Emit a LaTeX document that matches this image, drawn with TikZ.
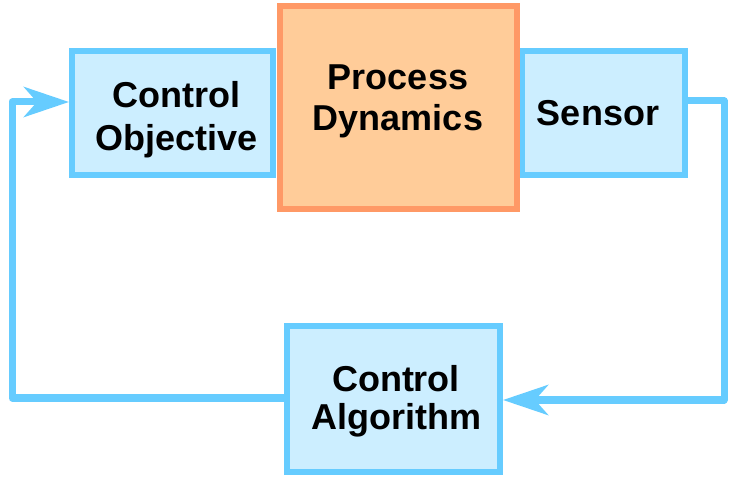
\documentclass[tikz,border=0pt]{standalone}
\usepackage{fontspec}
\setmainfont{Liberation Sans}
\usetikzlibrary{arrows.meta}
\definecolor{boxblue}{HTML}{CCEEFF}
\definecolor{lineblue}{HTML}{66CCFF}
\definecolor{procfill}{HTML}{FFCC99}
\definecolor{procline}{HTML}{FF9966}
\begin{document}
\begin{tikzpicture}[x=1pt,y=1pt,
  blockbox/.style={draw=lineblue, fill=boxblue, line width=6pt, rectangle, inner sep=0pt},
  procbox/.style={blockbox, draw=procline, fill=procfill},
  % one-line label: box runs from cap top to baseline
  blocktext/.style={align=center, inner sep=0pt, text height=26pt, text depth=0pt,
    font=\fontsize{36}{43}\selectfont\bfseries},
  % two-line label with line distance #1: box runs from first cap top to last baseline
  twoline/.style={align=center, inner sep=0pt, text height=26pt+#1, text depth=0pt,
    font=\fontsize{36}{#1}\selectfont\bfseries},
  flow/.style={draw=lineblue, line width=7pt, line join=round,
    -{Stealth[length=45pt, width=30pt, inset=13pt]}}]
\useasboundingbox (0,0) rectangle (730,479);
% blocks of the loop
\node[blockbox, minimum width=201pt, minimum height=124pt] (obj) at (172.5,366) {};
\node[blockbox, minimum width=163pt, minimum height=124pt] (sens) at (603.5,366) {};
\node[procbox, minimum width=237pt, minimum height=203pt] (proc) at (398.5,371.5) {};
\node[blockbox, minimum width=213pt, minimum height=146pt] (alg) at (393.5,80) {};
% block labels
\node[twoline=43pt] (objtext) at (176.5,362.5) {Control\\Objective};
\node[twoline=41pt] (proctext) at (398,382) {Process\\Dynamics};
\node[blocktext] (senstext) at (598,366.5) {Sensor};
\node[twoline=38.5pt] (algtext) at (396,81.5) {Control\\Algorithm};
% corner points of the feedback path
\coordinate (sr) at (724,378);
\coordinate (sb) at (724,79);
\coordinate (al) at (12,81);
\coordinate (at) at (12,377);
% sensor back to the control algorithm
\draw[flow] (sens.east |- sr) -- (sr) -- (sb) -- (alg.east |- sb);
% control algorithm back to the objective
\draw[flow] (alg.west |- al) -- (al) -- (at) -- (obj.west |- at);
\end{tikzpicture}
\end{document}
